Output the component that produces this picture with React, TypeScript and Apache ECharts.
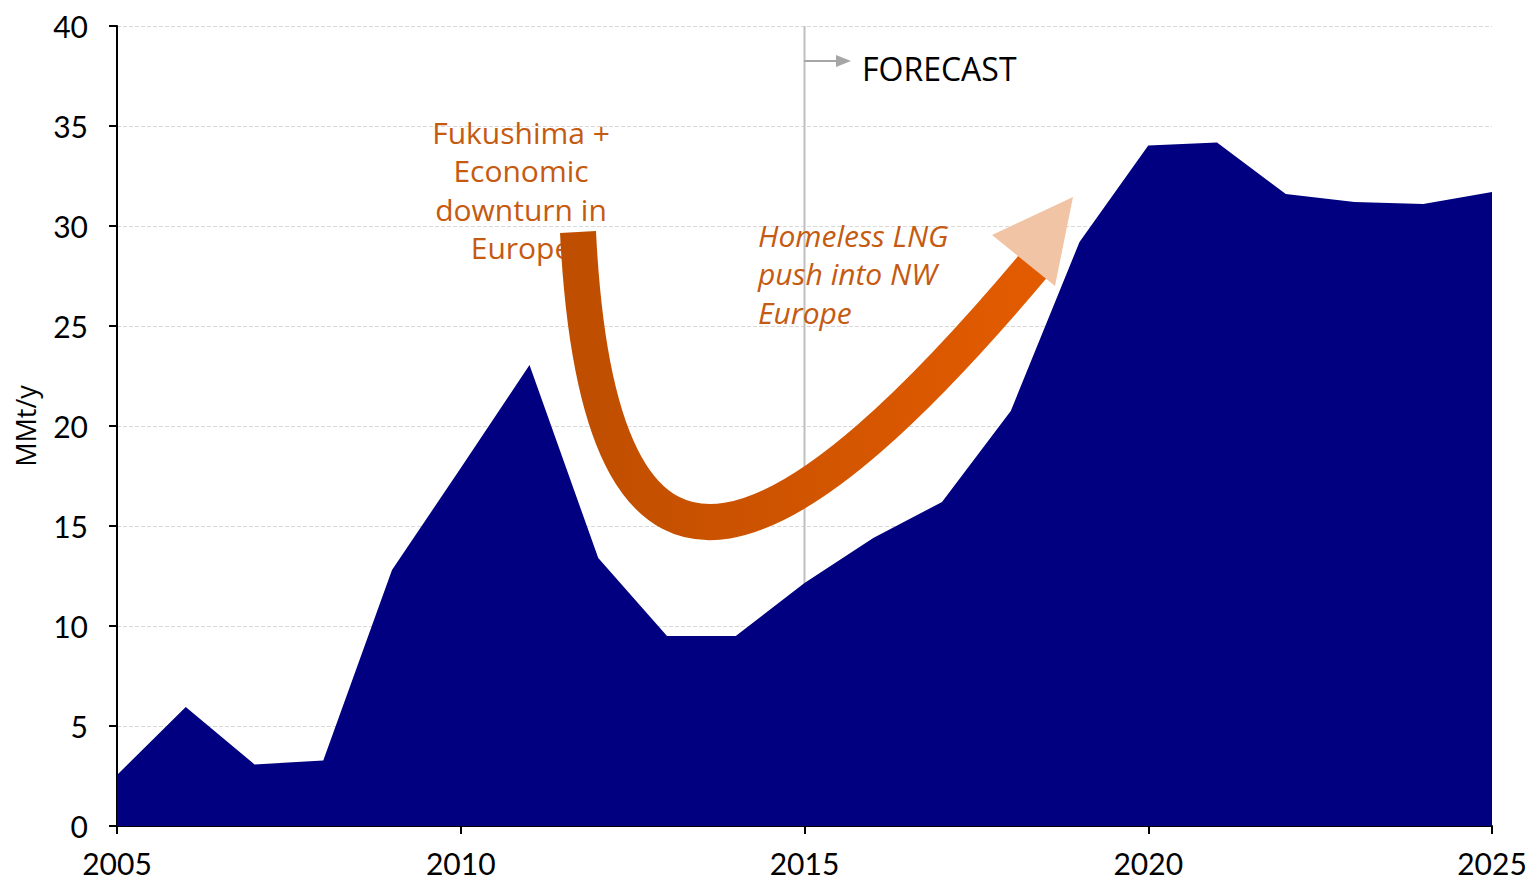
import React, { useEffect, useRef } from "react";
import * as echarts from "echarts";

const years = [2005, 2006, 2007, 2008, 2009, 2010, 2011, 2012, 2013, 2014, 2015, 2016, 2017, 2018, 2019, 2020, 2021, 2022, 2023, 2024, 2025];
const values = [2.55, 5.95, 3.08, 3.27, 12.8, 17.9, 23.05, 13.4, 9.5, 9.5, 12.15, 14.4, 16.2, 20.75, 29.2, 34.03, 34.18, 31.6, 31.2, 31.1, 31.7];
const forecastYear = 2015;
const yTicks = { min: 0, max: 40, interval: 5 };
const xTicks = { min: 2005, max: 2025, interval: 5 };
const yAxisName = "MMt/y";
const noteLeft = "Fukushima +\nEconomic\ndownturn in\nEurope";
const noteRight = "Homeless LNG\npush into NW\nEurope";
const forecastLabel = "FORECAST";

const FONT = "Lato, 'Open Sans', sans-serif";
const NOTE_FONT = "'Open Sans', Lato, sans-serif";
const NOTE_COLOR = "#C55A11";

export default function App() {
  const ref = useRef<HTMLDivElement>(null);
  useEffect(() => {
    if (!ref.current) return;
    const chart = echarts.init(ref.current, null, { renderer: "svg" });
    const data = years.map((y, i) => [y, values[i]]);
    chart.setOption({
      animation: false,
      backgroundColor: "#ffffff",
      grid: { left: 117, right: 35, top: 26, bottom: 54, containLabel: false, outerBoundsMode: "none" },
      xAxis: {
        type: "value",
        min: xTicks.min,
        max: xTicks.max,
        interval: xTicks.interval,
        axisLine: { show: true, lineStyle: { color: "#000", width: 2 } },
        axisTick: { show: true, length: 8, lineStyle: { color: "#000", width: 2 } },
        axisLabel: {
          formatter: (v: number) => String(v),
          color: "#000",
          fontSize: 30,
          fontFamily: FONT,
          margin: 22,
          hideOverlap: false,
        },
        splitLine: { show: false },
      },
      yAxis: {
        type: "value",
        min: yTicks.min,
        max: yTicks.max,
        interval: yTicks.interval,
        name: yAxisName,
        nameLocation: "middle",
        nameRotate: 90,
        nameGap: 78,
        nameTextStyle: { color: "#000", fontSize: 27, fontFamily: NOTE_FONT },
        axisLine: { show: true, lineStyle: { color: "#000", width: 2 } },
        axisTick: { show: true, length: 8, lineStyle: { color: "#000", width: 2 } },
        axisLabel: { color: "#000", fontSize: 30, fontFamily: FONT, margin: 29 },
        splitLine: { show: true, lineStyle: { color: "#D9D9D9", type: "dashed", width: 1 } },
      },
      series: [
        {
          type: "line",
          data: [[forecastYear, yTicks.min], [forecastYear, yTicks.max]],
          symbol: "none",
          lineStyle: { color: "#BFBFBF", width: 2 },
          z: 1,
          silent: true,
        },
        {
          type: "line",
          data,
          symbol: "none",
          lineStyle: { width: 0 },
          areaStyle: { color: "#000080", opacity: 1 },
          z: 2,
        },
      ],
      graphic: [
        {
          type: "text",
          x: 521,
          y: 113,
          z: 10,
          style: {
            text: noteLeft,
            fill: NOTE_COLOR,
            font: `30px ${NOTE_FONT}`,
            textAlign: "center",
            lineHeight: 38.5,
          },
        },
        {
          type: "text",
          x: 758,
          y: 216,
          z: 10,
          style: {
            text: noteRight,
            fill: NOTE_COLOR,
            font: `italic 30px ${NOTE_FONT}`,
            textAlign: "left",
            lineHeight: 38.5,
          },
        },
        {
          type: "bezierCurve",
          z: 20,
          shape: { x1: 578, y1: 232, cpx1: 600, cpy1: 680, cpx2: 800, cpy2: 545, x2: 1040, y2: 258 },
          style: {
            fill: "none",
            lineWidth: 36,
            lineCap: "butt",
            stroke: new echarts.graphic.LinearGradient(0, 0, 1, 0, [
              { offset: 0, color: "#BF4E00" },
              { offset: 1, color: "#E35B00" },
            ]),
          },
        },
        {
          type: "polygon",
          z: 21,
          shape: { points: [[992, 235], [1073, 197], [1055, 286]] },
          style: { fill: "#F2C4A6" },
        },
        {
          type: "line",
          z: 10,
          shape: { x1: 804, y1: 61, x2: 838, y2: 61 },
          style: { stroke: "#A6A6A6", lineWidth: 2 },
        },
        {
          type: "polygon",
          z: 10,
          shape: { points: [[836, 55], [851, 61], [836, 67]] },
          style: { fill: "#A6A6A6" },
        },
        {
          type: "text",
          x: 862,
          y: 68,
          z: 10,
          style: {
            text: forecastLabel,
            fill: "#000",
            font: `32px ${NOTE_FONT}`,
            textAlign: "left",
            textVerticalAlign: "middle",
          },
        },
      ],
    });
    return () => chart.dispose();
  }, []);
  return (
    <div
      ref={ref}
      style={{ position: "fixed", left: 0, top: 0, width: 1527, height: 880 }}
    />
  );
}
